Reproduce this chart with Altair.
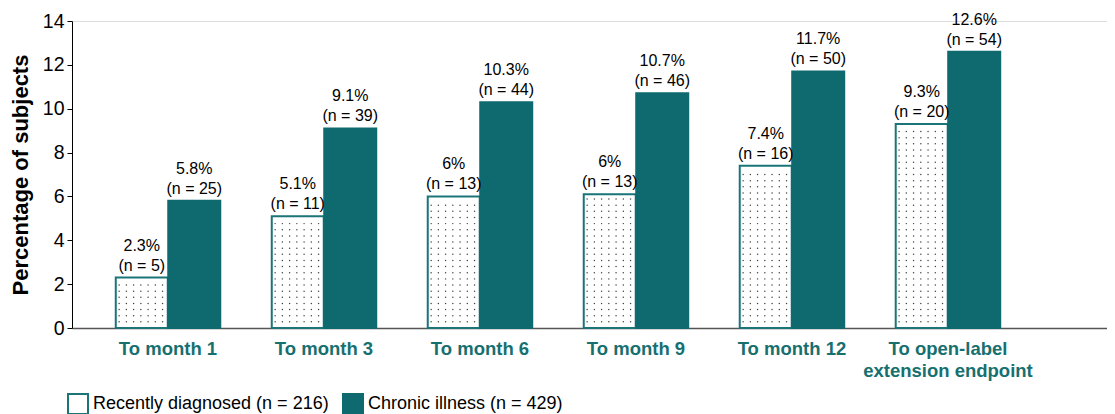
import altair as alt
import pandas as pd

groups = ["To month 1", "To month 3", "To month 6", "To month 9", "To month 12",
          "To open-label|extension endpoint"]
series = ["Recently diagnosed (n = 216)", "Chronic illness (n = 429)"]
recent_vals = [2.3, 5.1, 6.0, 6.1, 7.4, 9.3]
recent_pct = ["2.3%", "5.1%", "6%", "6%", "7.4%", "9.3%"]
recent_n = [5, 11, 13, 13, 16, 20]
chronic_vals = [5.8, 9.1, 10.3, 10.7, 11.7, 12.6]
chronic_pct = ["5.8%", "9.1%", "10.3%", "10.7%", "11.7%", "12.6%"]
chronic_n = [25, 39, 44, 46, 50, 54]

TEAL = "#0f6a70"
FONT = "Liberation Sans"

rows = []
for g, v, p, n in zip(groups, recent_vals, recent_pct, recent_n):
    rows.append({"group": g, "series": series[0], "value": v, "label": f"{p}\n(n = {n})"})
for g, v, p, n in zip(groups, chronic_vals, chronic_pct, chronic_n):
    rows.append({"group": g, "series": series[1], "value": v, "label": f"{p}\n(n = {n})"})
df = pd.DataFrame(rows)

# texture dots inside the "recently diagnosed" bars (slots of a finer offset scale)
slots = [f"s{i:02d}" for i in range(30)]
dot_rows = []
for g, v in zip(groups, recent_vals):
    k = 1
    while 0.28 * k < v - 0.12:
        for c in range(1, 15, 2):
            dot_rows.append({"group": g, "slot": slots[c], "level": 0.28 * k})
        k += 1
dots_df = pd.DataFrame(dot_rows)

x_enc = alt.X("group:N", sort=groups,
              scale=alt.Scale(paddingInner=0.327, paddingOuter=0.481, align=0.29),
              axis=alt.Axis(title=None, labelExpr="split(datum.label, '|')",
                            labelFont=FONT, labelFontSize=18.5, labelFontWeight="bold",
                            labelColor="#17706f", labelAngle=0, labelPadding=11,
                            labelLineHeight=22, ticks=False, domainColor="#555555",
                            domainWidth=1.5, labelBaseline="top"))
xoff = alt.XOffset("series:N", sort=series, scale=alt.Scale(paddingInner=0, paddingOuter=0))

y_enc = alt.Y("value:Q", scale=alt.Scale(domain=[0, 14], nice=False),
              axis=alt.Axis(title="Percentage of subjects", titleFont=FONT, titleFontSize=22,
                            titleFontWeight="bold", titleColor="black", titlePadding=10,
                            labelFont=FONT, labelFontSize=19.5, labelColor="black",
                            values=[0, 2, 4, 6, 8, 10, 12, 14], grid=False,
                            tickColor="black", domainColor="black", tickSize=5,
                            labelPadding=3))

bars = alt.Chart(df).mark_bar(strokeWidth=2, size=52).encode(
    x=x_enc,
    xOffset=xoff,
    y=y_enc,
    fill=alt.Fill("series:N", sort=series,
                  scale=alt.Scale(domain=series, range=["white", TEAL]),
                  legend=alt.Legend(title=None, orient="none", legendX=-5, legendY=372,
                                    direction="horizontal", symbolType="square",
                                    symbolSize=400, symbolStrokeWidth=2,
                                    labelFont=FONT, labelFontSize=18, labelColor="black",
                                    labelLimit=0, columnPadding=10, symbolOffset=0)),
    stroke=alt.Stroke("series:N", sort=series,
                      scale=alt.Scale(domain=series, range=["#1a7478", TEAL]),
                      legend=None),
)

labels = alt.Chart(df).mark_text(baseline="bottom", dy=-24, fontSize=16, font=FONT,
                                 color="black", lineBreak="\n", lineHeight=20).encode(
    x=alt.X("group:N", sort=groups),
    xOffset=alt.XOffset("series:N", sort=series),
    y=alt.Y("value:Q"),
    text="label:N",
)

dots = alt.Chart(dots_df).mark_circle(size=2.2, color="#444444", opacity=1).encode(
    x=alt.X("group:N", sort=groups),
    xOffset=alt.XOffset("slot:N", sort=slots,
                        scale=alt.Scale(domain=slots, paddingInner=0, paddingOuter=0)),
    y=alt.Y("level:Q"),
)

chart = alt.layer(bars, labels, dots).resolve_scale(xOffset="independent").properties(
    width=1035, height=307,
    autosize=alt.AutoSizeParams(type="none"),
    padding={"left": 64, "top": 13, "right": 0, "bottom": 90},
).configure_view(stroke=None).configure(background="white")

chart.save("out.html", embed_options={"renderer": "svg", "actions": False})
